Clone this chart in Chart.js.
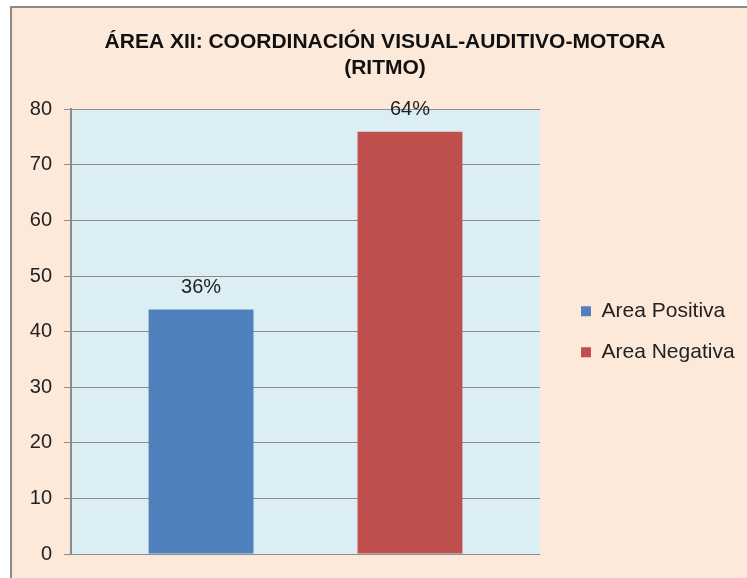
<!DOCTYPE html>
<html>
<head>
<meta charset="utf-8">
<script src="https://cdn.jsdelivr.net/npm/chart.js@4"></script>
<style>
  html, body { margin: 0; padding: 0; overflow: hidden; background: #ffffff; }
  .frame {
    position: absolute; left: 10px; top: 6px;
    width: 780px; height: 600px;
    border-left: 2px solid #8a8a8a; border-top: 2px solid #8a8a8a;
    background: #FDE9D9;
  }
  #myChart { position: absolute; left: 0; top: 0; }
</style>
</head>
<body>
<div class="frame">
  <canvas id="myChart" width="760" height="570"></canvas>
</div>
<script>
const categories = [''];
const seriesNames = ['Area Positiva', 'Area Negativa'];
const seriesValues = [[44], [76]];
const barLabels = ['36%', '64%'];
const seriesColors = ['#4F81BD', '#C0504D'];
const titleLines = ['ÁREA XII: COORDINACIÓN VISUAL-AUDITIVO-MOTORA', '(RITMO)'];

const FONT = "'Liberation Sans', Arial, sans-serif";

const plotBg = {
    id: 'plotBg',
    beforeDraw(chart) {
        const a = chart.chartArea;
        const ctx = chart.ctx;
        ctx.save();
        ctx.fillStyle = '#DBEEF4';
        ctx.fillRect(a.left, a.top, a.right - a.left, a.bottom - a.top);
        ctx.restore();
    }
};

const valueLabels = {
    id: 'valueLabels',
    afterDatasetsDraw(chart) {
        const ctx = chart.ctx;
        ctx.save();
        ctx.font = '20px ' + FONT;
        ctx.fillStyle = '#222222';
        ctx.textAlign = 'center';
        ctx.textBaseline = 'middle';
        chart.data.datasets.forEach((ds, i) => {
            const bar = chart.getDatasetMeta(i).data[0];
            ctx.fillText(barLabels[i], bar.x, bar.y - 22);
        });
        ctx.restore();
    }
};

// legend box width is fixed so the legend sits where it does in the picture
const legendWidth = {
    id: 'legendWidth',
    afterInit(chart) {
        const legend = chart.legend;
        const fit = legend.fit;
        legend.fit = function () {
            fit.call(this);
            this.width = 197;
        };
    }
};

var data = {
    labels: categories,
    datasets: seriesNames.map((name, i) => ({
        label: name,
        data: seriesValues[i],
        backgroundColor: seriesColors[i],
        borderWidth: 0,
        categoryPercentage: 0.891,
        barPercentage: 0.502,
    }))
};

const config = {
    type: 'bar',
    data: data,
    options: {
        responsive: false,
        animation: false,
        layout: {
            padding: { left: 0, right: 14, top: 0, bottom: 24 }
        },
        plugins: {
            title: {
                display: true,
                text: titleLines,
                color: '#111111',
                font: { family: FONT, size: 21, weight: 'bold', lineHeight: 1.2 },
                padding: { top: 22, bottom: 29 }
            },
            legend: {
                position: 'right',
                fullSize: false,
                labels: {
                    boxWidth: 10,
                    boxHeight: 10,
                    padding: 20,
                    color: '#222222',
                    font: { family: FONT, size: 21 }
                }
            },
            tooltip: { enabled: false }
        },
        scales: {
            x: {
                display: false
            },
            y: {
                min: 0,
                max: 80,
                ticks: {
                    stepSize: 10,
                    color: '#222222',
                    padding: 12,
                    font: { family: FONT, size: 20 }
                },
                grid: {
                    color: '#8C8C8C',
                    lineWidth: 1,
                    tickLength: 7
                },
                border: { color: '#8C8C8C', width: 2 },
                afterFit: (s) => { s.width = 59; }
            },
            y2: {
                position: 'right',
                display: true,
                grid: { display: false },
                ticks: { display: false },
                border: { display: false },
                afterFit: (s) => { s.width = 21; }
            }
        }
    },
    plugins: [plotBg, valueLabels, legendWidth]
};

const myChart = new Chart(
    document.getElementById('myChart'),
    config
);
</script>
</body>
</html>
